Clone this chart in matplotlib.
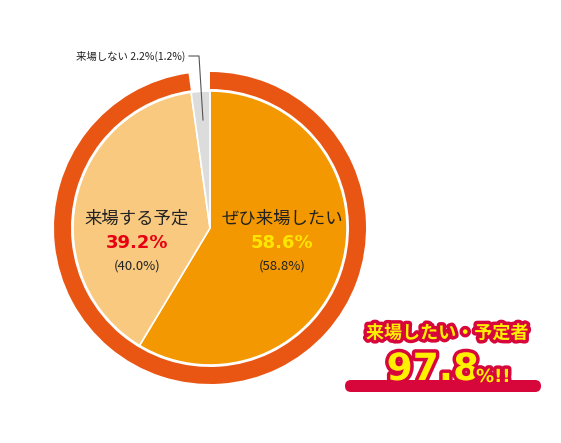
import matplotlib
matplotlib.use("Agg")
import matplotlib.pyplot as plt
import matplotlib.patheffects as pe
from matplotlib.patches import FancyBboxPatch

plt.rcParams["font.family"] = ["Noto Sans CJK JP", "DejaVu Sans"]

labels = ["ぜひ来場したい", "来場する予定", "来場しない"]
shares = [58.6, 39.2, 2.2]
prev_shares = [58.8, 40.0, 1.2]
colors = ["#F39800", "#F8C97E", "#DCDCDC"]
total_yes = 97.8

W, H = 561, 443
fig = plt.figure(figsize=(W / 100, H / 100), dpi=100)
ax = fig.add_axes([0, 0, 1, 1])
ax.set_xlim(0, W)
ax.set_ylim(0, H)
ax.set_aspect("equal")
ax.axis("off")

cx, cy = 210, H - 228
# outer ring for "yes" total
ax.pie([total_yes, 100 - total_yes], radius=156, center=(cx, cy), startangle=90,
       counterclock=False, colors=["#E95513", "none"],
       wedgeprops=dict(width=17, edgecolor="none"), frame=True)
ax.pie(shares, radius=137, center=(cx, cy), startangle=90, counterclock=False,
       colors=colors, wedgeprops=dict(edgecolor="white", linewidth=1.2), frame=True)
ax.set_xlim(0, W)
ax.set_ylim(0, H)
ax.axis("off")

# big labels
for x, lab, val, prev, vc in [(282, labels[0], shares[0], prev_shares[0], "#FFE600"),
                              (137, labels[1], shares[1], prev_shares[1], "#E60012")]:
    ax.text(x, H - 219, lab, ha="center", va="center", fontsize=12.5, color="#222222")
    ax.text(x, H - 243, f"{val}%", ha="center", va="center", fontsize=13,
            fontweight="bold", color=vc, family="DejaVu Sans")
    ax.text(x, H - 266, f"({prev}%)", ha="center", va="center", fontsize=9.5, color="#222222")

# small slice label with leader
ax.text(185, H - 56, f"{labels[2]} {shares[2]}%({prev_shares[2]}%)", ha="right",
        va="center", fontsize=7.5, color="#222222")
ax.plot([189, 199, 203], [H - 56, H - 56, H - 120], color="#555555", lw=0.8)

# badge
ax.add_patch(FancyBboxPatch((345, H - 392), 196, 12,
                            boxstyle="round,pad=0,rounding_size=6",
                            fc="#D7063B", ec="none"))
stroke = [pe.withStroke(linewidth=5, foreground="#D7063B")]
ax.text(447, H - 333, "来場したい・予定者", ha="center", va="center", fontsize=13,
        fontweight="bold", color="#FFF000", path_effects=stroke)
ax.text(433, H - 370, f"{total_yes}", ha="center", va="center", fontsize=27,
        fontweight="bold", color="#FFF000", family="DejaVu Sans", path_effects=stroke)
ax.text(476, H - 377, "%!!", ha="left", va="center", fontsize=13,
        fontweight="bold", color="#FFF000", family="DejaVu Sans", path_effects=stroke)

fig.savefig("out.png", dpi=100)
